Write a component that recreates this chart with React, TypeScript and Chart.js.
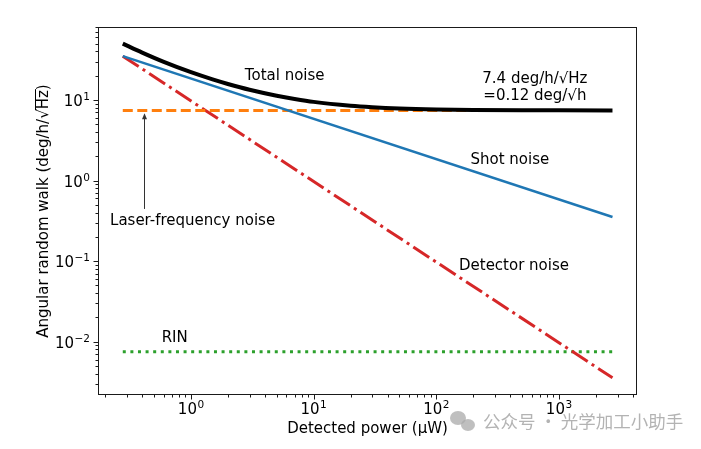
import React, { useEffect, useRef } from "react";
import { Chart, registerables } from "chart.js";

Chart.register(...registerables);

const FONT = "'DejaVu Sans', sans-serif";

// Total noise curve
const totalPower = [0.278, 0.4, 0.6, 1, 1.5, 2, 3, 5, 7, 10, 20, 30, 50, 100, 200, 500, 1000, 2730];
const totalNoise = [50.0, 38.7, 29.7, 22.1, 18.0, 15.8, 13.4, 11.3, 10.3, 9.47, 8.49, 8.14, 7.85, 7.63, 7.52, 7.45, 7.43, 7.41];

// Straight lines (two endpoints each)
const linePower = [0.278, 2730];
const shotNoise = [35, 0.353];
const detectorNoise = [35, 0.00356];
const laserNoise = [7.4, 7.4];
const rinNoise = [0.0075, 0.0075];

// Axes
const xMin = 0.1746;
const xMax = 4325;
const yMin = 0.002178;
const yMax = 80.5;
const xTickValues = [1, 10, 100, 1000];
const xTickExponents = ["0", "1", "2", "3"];
const yTickValues = [0.01, 0.1, 1, 10];
const yTickExponents = ["−2", "−1", "0", "1"];
const tickBase = "10";

const xTitle = "Detected power (μW)";
const yTitlePrefix = "Angular random walk (deg/h/√";
const yTitleRoot = "Hz";
const yTitleSuffix = ")";

// Annotations: [text, x, y, align]
const annotations: [string, number, number, CanvasTextAlign][] = [
  ["Total noise", 2.75, 19.5, "left"],
  ["7.4 deg/h/√Hz", 636, 18.2, "center"],
  ["=0.12 deg/√h", 636, 11.3, "center"],
  ["Shot noise", 190, 1.8, "left"],
  ["Laser-frequency noise", 0.2188, 0.318, "left"],
  ["Detector noise", 153, 0.0871, "left"],
  ["RIN", 0.577, 0.011, "left"],
];
const arrowX = 0.414;
const arrowFromY = 0.444;
const arrowToY = 6.84;

const watermark = "公众号 · 光学加工小助手";

const pts = (xs: number[], ys: number[]) => xs.map((x, i) => ({ x, y: ys[i] }));

function drawPowLabel(ctx: CanvasRenderingContext2D, exp: string, x: number, baseline: number, align: "center" | "right") {
  ctx.font = `15px ${FONT}`;
  const wb = ctx.measureText(tickBase).width;
  ctx.font = `10.5px ${FONT}`;
  const we = ctx.measureText(exp).width;
  const total = wb + we + 0.5;
  const left = align === "center" ? x - total / 2 : x - total;
  ctx.textAlign = "left";
  ctx.textBaseline = "alphabetic";
  ctx.font = `15px ${FONT}`;
  ctx.fillText(tickBase, left, baseline);
  ctx.font = `10.5px ${FONT}`;
  ctx.fillText(exp, left + wb + 0.5, baseline - 6);
}

const decor = {
  id: "decor",
  afterDraw(chart: any) {
    const { ctx, chartArea: a, scales } = chart;
    const xs = scales.x;
    const ys = scales.y;
    ctx.save();

    // spines
    ctx.strokeStyle = "#1a1a1a";
    ctx.lineWidth = 1;
    const L = Math.round(a.left) + 0.5;
    const R = Math.round(a.right) - 0.5;
    const T = Math.round(a.top) + 0.5;
    const B = Math.round(a.bottom) - 0.5;
    ctx.strokeRect(L, T, R - L, B - T);

    // ticks
    ctx.beginPath();
    for (let k = -1; k <= 3; k++) {
      for (let m = 1; m <= 9; m++) {
        const v = m * Math.pow(10, k);
        if (v < xMin || v > xMax) continue;
        const p = Math.round(xs.getPixelForValue(v)) + 0.5;
        const len = m === 1 ? 5 : 3;
        ctx.moveTo(p, B);
        ctx.lineTo(p, B + len);
      }
    }
    for (let k = -3; k <= 1; k++) {
      for (let m = 1; m <= 9; m++) {
        const v = m * Math.pow(10, k);
        if (v < yMin || v > yMax) continue;
        const p = Math.round(ys.getPixelForValue(v)) + 0.5;
        const len = m === 1 ? 5 : 3;
        ctx.moveTo(L, p);
        ctx.lineTo(L - len, p);
      }
    }
    ctx.stroke();

    // tick labels
    ctx.fillStyle = "#000";
    xTickValues.forEach((v, i) => {
      drawPowLabel(ctx, xTickExponents[i], xs.getPixelForValue(v), a.bottom + 19, "center");
    });
    yTickValues.forEach((v, i) => {
      drawPowLabel(ctx, yTickExponents[i], a.left - 8, ys.getPixelForValue(v) + 6, "right");
    });

    // annotations
    ctx.fillStyle = "#000";
    ctx.font = `15px ${FONT}`;
    ctx.textBaseline = "middle";
    for (const [t, x, y, al] of annotations) {
      ctx.textAlign = al;
      ctx.fillText(t, xs.getPixelForValue(x), ys.getPixelForValue(y));
    }

    // arrow
    const ax = Math.round(xs.getPixelForValue(arrowX)) + 0.5;
    const ay0 = ys.getPixelForValue(arrowFromY);
    const ay1 = ys.getPixelForValue(arrowToY);
    ctx.strokeStyle = "#333";
    ctx.fillStyle = "#333";
    ctx.lineWidth = 1;
    ctx.beginPath();
    ctx.moveTo(ax, ay0);
    ctx.lineTo(ax, ay1 + 5);
    ctx.stroke();
    ctx.beginPath();
    ctx.moveTo(ax, ay1);
    ctx.lineTo(ax - 2.5, ay1 + 6);
    ctx.lineTo(ax + 2.5, ay1 + 6);
    ctx.closePath();
    ctx.fill();

    // y title with radical overline
    const cy = (a.top + a.bottom) / 2;
    ctx.save();
    ctx.translate(48, cy);
    ctx.rotate(-Math.PI / 2);
    ctx.font = `15px ${FONT}`;
    ctx.fillStyle = "#000";
    ctx.textAlign = "left";
    ctx.textBaseline = "alphabetic";
    const full = yTitlePrefix + yTitleRoot + yTitleSuffix;
    const W = ctx.measureText(full).width;
    const wp = ctx.measureText(yTitlePrefix).width;
    const wr = ctx.measureText(yTitleRoot).width;
    const x0 = -W / 2;
    ctx.fillText(full, x0, 0);
    ctx.strokeStyle = "#000";
    ctx.lineWidth = 1;
    ctx.beginPath();
    ctx.moveTo(x0 + wp - 1, -12.5);
    ctx.lineTo(x0 + wp + wr + 1, -12.5);
    ctx.stroke();
    ctx.restore();

    // watermark
    ctx.fillStyle = "rgba(170,170,170,0.75)";
    ctx.beginPath();
    ctx.ellipse(458, 418, 8, 7, 0, 0, Math.PI * 2);
    ctx.fill();
    ctx.beginPath();
    ctx.ellipse(468, 425, 7, 6, 0, 0, Math.PI * 2);
    ctx.fill();
    ctx.font = `17.5px 'Noto Sans CJK SC', sans-serif`;
    ctx.textAlign = "left";
    ctx.textBaseline = "middle";
    ctx.fillStyle = "rgba(160,160,160,0.8)";
    ctx.fillText(watermark, 483, 421);

    ctx.restore();
  },
};

export default function App() {
  const ref = useRef<HTMLCanvasElement>(null);
  useEffect(() => {
    document.body.style.margin = "0";
    document.body.style.overflow = "hidden";
    const chart = new Chart(ref.current as HTMLCanvasElement, {
      type: "line",
      data: {
        datasets: [
          {
            label: "Total noise",
            data: pts(totalPower, totalNoise),
            borderColor: "#000000",
            borderWidth: 4,
            pointRadius: 0,
            cubicInterpolationMode: "monotone",
            fill: false,
          },
          {
            label: "Shot noise",
            data: pts(linePower, shotNoise),
            borderColor: "#1f77b4",
            borderWidth: 2.5,
            pointRadius: 0,
            fill: false,
          },
          {
            label: "Laser-frequency noise",
            data: pts(linePower, laserNoise),
            borderColor: "#ff7f0e",
            borderWidth: 3,
            borderDash: [10, 4.5],
            pointRadius: 0,
            fill: false,
          },
          {
            label: "Detector noise",
            data: pts(linePower, detectorNoise),
            borderColor: "#d62728",
            borderWidth: 3,
            borderDash: [19, 4.8, 3, 4.8],
            pointRadius: 0,
            fill: false,
          },
          {
            label: "RIN",
            data: pts(linePower, rinNoise),
            borderColor: "#2ca02c",
            borderWidth: 3,
            borderDash: [3, 4.6],
            pointRadius: 0,
            fill: false,
          },
        ],
      },
      options: {
        responsive: true,
        maintainAspectRatio: false,
        animation: false,
        layout: { padding: { left: 0, top: 27, right: 64, bottom: 0 } },
        plugins: { legend: { display: false }, tooltip: { enabled: false } },
        scales: {
          x: {
            type: "logarithmic",
            min: xMin,
            max: xMax,
            grid: { display: false },
            border: { display: false },
            afterBuildTicks: (s: any) => {
              s.ticks = xTickValues.map((v) => ({ value: v }));
            },
            afterFit: (s: any) => {
              s.height = 54;
            },
            ticks: { display: false },
            title: {
              display: true,
              text: xTitle,
              color: "#000",
              font: { family: FONT, size: 15 },
              padding: { top: 0, bottom: 11 },
            },
          },
          y: {
            type: "logarithmic",
            min: yMin,
            max: yMax,
            grid: { display: false },
            border: { display: false },
            afterBuildTicks: (s: any) => {
              s.ticks = yTickValues.map((v) => ({ value: v }));
            },
            afterFit: (s: any) => {
              s.width = 98;
            },
            ticks: { display: false },
          },
        },
      },
      plugins: [decor],
    } as any);
    return () => chart.destroy();
  }, []);
  return (
    <div style={{ width: 701, height: 449, position: "relative" }}>
      <canvas ref={ref} />
    </div>
  );
}
